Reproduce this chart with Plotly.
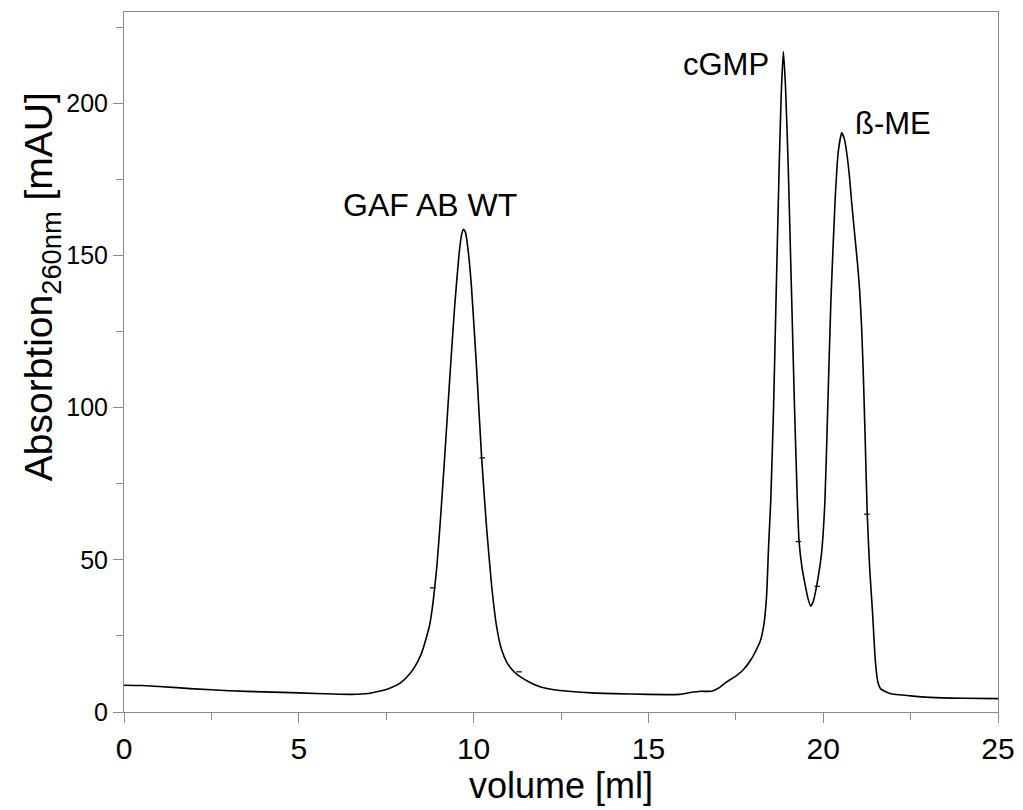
import plotly.graph_objects as go

# Chromatogram (volume in ml, absorbance 260 nm in mAU)
volume_ml = [0.0, 0.5, 1.0, 2.0, 3.0, 4.0, 5.0, 6.0, 6.5, 7.0, 7.3, 7.6, 7.9, 8.1, 8.3,
             8.5, 8.65, 8.75, 8.85, 8.95, 9.05, 9.18, 9.32, 9.45, 9.58, 9.66, 9.71, 9.77,
             9.85, 9.94, 10.09, 10.23, 10.37, 10.52, 10.66, 10.8, 10.95, 11.15, 11.33, 11.6,
             11.9, 12.3, 12.7, 13.5, 14.5, 15.5, 15.9, 16.2, 16.5, 16.8, 17.0, 17.24,
             17.5, 17.71, 17.95, 18.19, 18.3, 18.38, 18.44, 18.5, 18.58, 18.65, 18.74,
             18.8, 18.86, 18.92, 19.0, 19.1, 19.18, 19.26, 19.31, 19.4, 19.48, 19.56,
             19.64, 19.72, 19.81, 19.9, 19.96, 20.05, 20.13, 20.22, 20.34, 20.43, 20.53,
             20.6, 20.67, 20.75, 20.81, 20.9, 20.98, 21.04, 21.1, 21.15, 21.2, 21.26,
             21.33, 21.41, 21.49, 21.56, 21.65, 21.91, 22.5, 23.05, 24.0, 25.0]
absorbance_mau = [8.8, 8.7, 8.4, 7.6, 7.0, 6.6, 6.3, 5.9, 5.8, 6.1, 6.8, 7.8, 9.5, 11.6, 14.5,
                  19.0, 24.5, 29.0, 37.0, 48.0, 63.0, 85.0, 110.0, 132.0, 150.0, 157.0, 158.6, 157.5,
                  151.0, 139.5, 112.0, 83.5, 60.8, 41.0, 28.0, 20.5, 16.3, 13.3, 11.6, 9.8,
                  8.3, 7.3, 6.8, 6.2, 5.9, 5.7, 5.8, 6.4, 6.8, 6.8, 7.8, 9.9,
                  11.8, 13.8, 17.5, 23.0, 28.5, 38.0, 55.0, 69.5, 100.0, 135.0, 179.0,
                  203.0, 217.0, 206.0, 179.0, 135.0, 100.0, 69.5, 56.0, 47.0, 42.0, 37.5,
                  34.8, 36.5, 41.3, 47.5, 53.0, 69.5, 100.0, 135.0, 168.0, 184.0, 190.3,
                  188.5, 184.0, 176.0, 168.0, 157.0, 147.5, 139.0, 126.0, 110.0, 90.0, 65.0,
                  47.0, 33.0, 17.0, 10.0, 7.5, 6.1, 5.3, 4.8, 4.5, 4.4]

# Fraction marks on the trace
fraction_ml = [8.83, 10.25, 11.3, 19.29, 19.83, 21.25]
fraction_mau = [40.8, 83.5, 13.2, 56.0, 41.3, 65.0]

# Peak labels
peak_labels = ["GAF AB WT", "cGMP", "ß-ME"]
peak_label_x = [8.75, 17.23, 22.0]
peak_label_y = [166.6, 212.9, 193.3]

x_ticks = [0, 5, 10, 15, 20, 25]
y_ticks = [0, 50, 100, 150, 200]

FONT = "Liberation Sans, Arial, sans-serif"
AXIS_GREY = "#8a8a8a"

fig = go.Figure()
fig.add_trace(go.Scatter(
    x=volume_ml, y=absorbance_mau, mode="lines",
    line=dict(color="black", width=1.6, shape="spline", smoothing=0.5),
    hoverinfo="x+y", showlegend=False))
fig.add_trace(go.Scatter(
    x=fraction_ml, y=fraction_mau, mode="markers",
    marker=dict(symbol="line-ew", size=4, line=dict(color="black", width=1.2)),
    hoverinfo="skip", showlegend=False))

for t, xv, yv in zip(peak_labels, peak_label_x, peak_label_y):
    fig.add_annotation(x=xv, y=yv, text=t, showarrow=False,
                       font=dict(family=FONT, size=32 if t == "GAF AB WT" else 31, color="black"))

# y-axis title (placed off-centre like the original)
fig.add_annotation(xref="paper", yref="paper", x=-0.094, y=0.608,
                   text="Absorbtion<sub>260nm</sub> [mAU]", textangle=-90,
                   showarrow=False, xanchor="center", yanchor="middle",
                   font=dict(family=FONT, size=39, color="black"))

fig.update_layout(
    width=1023, height=810,
    margin=dict(l=124, r=25, t=12, b=98),
    paper_bgcolor="white", plot_bgcolor="white",
    xaxis=dict(
        range=[0, 25], tickvals=x_ticks, ticks="outside", ticklen=10, tickwidth=1,
        tickcolor=AXIS_GREY, showline=True, linecolor=AXIS_GREY, linewidth=1,
        mirror=True, showgrid=False, zeroline=False, automargin=False,
        minor=dict(dtick=2.5, ticks="outside", ticklen=7, tickcolor=AXIS_GREY, showgrid=False),
        tickfont=dict(family=FONT, size=30, color="black"),
        title=dict(text="volume [ml]", font=dict(family=FONT, size=36, color="black"), standoff=4),
    ),
    yaxis=dict(
        range=[0, 230], tickvals=y_ticks, ticks="outside", ticklen=10, tickwidth=1,
        tickcolor=AXIS_GREY, showline=True, linecolor=AXIS_GREY, linewidth=1,
        mirror=True, showgrid=False, zeroline=False, automargin=False,
        minor=dict(dtick=25, ticks="outside", ticklen=7, tickcolor=AXIS_GREY, showgrid=False),
        tickfont=dict(family=FONT, size=25, color="black"),
    ),
)

fig.write_html("out.html", config={"displayModeBar": False})

# remove the default page margin so the figure sits at the window's top-left corner
with open("out.html", "r", encoding="utf-8") as f:
    html = f.read()
html = html.replace("<body>", '<body style="margin:0;padding:0;">', 1)
with open("out.html", "w", encoding="utf-8") as f:
    f.write(html)
